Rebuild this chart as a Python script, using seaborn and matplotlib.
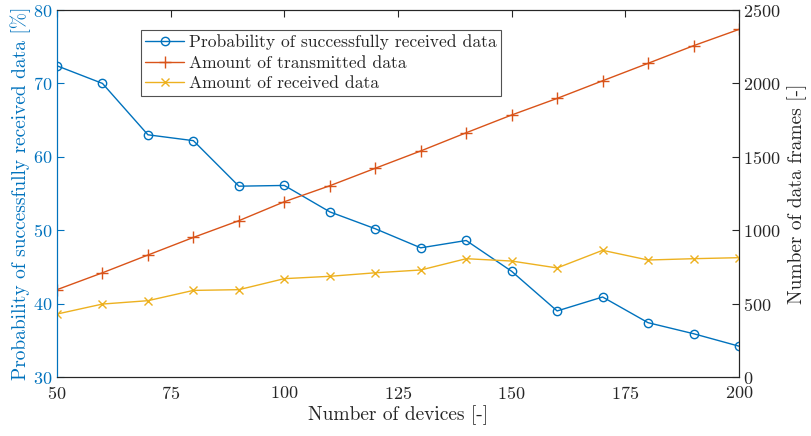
import matplotlib
matplotlib.use("Agg")
import matplotlib.pyplot as plt
import numpy as np
import pandas as pd
import seaborn as sns

devices = [50, 60, 70, 80, 90, 100, 110, 120, 130, 140, 150, 160, 170, 180, 190, 200]
probability = [72.4, 70.0, 63.0, 62.2, 56.0, 56.1, 52.5, 50.2, 47.6, 48.6, 44.4, 39.0, 40.9, 37.4, 35.9, 34.2]
transmitted = [595, 710, 831, 951, 1065, 1194, 1303, 1422, 1540, 1664, 1785, 1898, 2018, 2137, 2257, 2368]
received = [429, 497, 520, 590, 595, 670, 686, 710, 729, 806, 790, 743, 863, 797, 806, 813]

df = pd.DataFrame({"devices": devices, "probability": probability,
                   "transmitted": transmitted, "received": received})

sns.set_style("white")
plt.rcParams["font.family"] = ["cmr10", "DejaVu Serif"]
plt.rcParams["axes.formatter.use_mathtext"] = True
plt.rcParams["xtick.direction"] = "in"
plt.rcParams["ytick.direction"] = "in"

blue = "#0072BD"
orange = "#D95319"
yellow = "#EDB120"
dark = "#262626"

fig = plt.figure(figsize=(8.12, 4.36), dpi=100)
ax = fig.add_axes([0.0702, 0.1353, 0.8399, 0.8417])
ax2 = ax.twinx()

sns.lineplot(data=df, x="devices", y="probability", ax=ax, color=blue,
             marker="o", markersize=6, markerfacecolor="none", markeredgecolor=blue,
             markeredgewidth=1.0, linewidth=1.0, label="Probability of successfully received data",
             legend=False)
sns.lineplot(data=df, x="devices", y="transmitted", ax=ax2, color=orange,
             marker="+", markersize=8, markeredgecolor=orange, markeredgewidth=1.0,
             linewidth=1.0, label="Amount of transmitted data", legend=False)
sns.lineplot(data=df, x="devices", y="received", ax=ax2, color=yellow,
             marker="x", markersize=6, markeredgecolor=yellow, markeredgewidth=1.0,
             linewidth=1.0, label="Amount of received data", legend=False)

ax.set_xlim(50, 200)
ax.set_ylim(30, 80)
ax2.set_ylim(0, 2500)
ax.set_xticks([50, 75, 100, 125, 150, 175, 200])
ax.set_yticks([30, 40, 50, 60, 70, 80])
ax2.set_yticks([0, 500, 1000, 1500, 2000, 2500])

ax.set_xlabel("Number of devices [-]", fontsize=14, color=dark, labelpad=2)
ax.set_ylabel("Probability of successfully received data [%]", fontsize=14, color=blue, labelpad=2)
ax2.set_ylabel("Number of data frames [-]", fontsize=14, color=dark, labelpad=5)

ax.tick_params(axis="x", colors=dark, labelsize=13, length=5, top=True, width=0.8, pad=6)
ax.tick_params(axis="y", colors=blue, labelsize=13, length=5, width=0.8, pad=3)
ax2.tick_params(axis="y", colors=dark, labelsize=13, length=5, width=0.8, pad=3)
ax2.tick_params(axis="x", top=True, direction="in", length=5)

for a in (ax, ax2):
    for s in a.spines.values():
        s.set_linewidth(0.8)
        s.set_color(dark)
    a.spines["left"].set_color(blue)
    a.grid(False)

h1, l1 = ax.get_legend_handles_labels()
h2, l2 = ax2.get_legend_handles_labels()
leg = ax2.legend(h1 + h2, l1 + l2, loc="upper left", bbox_to_anchor=(141 / 812, 1 - 30 / 436),
                 bbox_transform=fig.transFigure, fontsize=12.6, frameon=True, fancybox=False,
                 edgecolor=dark, borderpad=0.25, labelspacing=0.3, handlelength=2.2,
                 handletextpad=0.3, borderaxespad=0)
leg.get_frame().set_linewidth(0.8)

fig.savefig("out.png", dpi=100)
